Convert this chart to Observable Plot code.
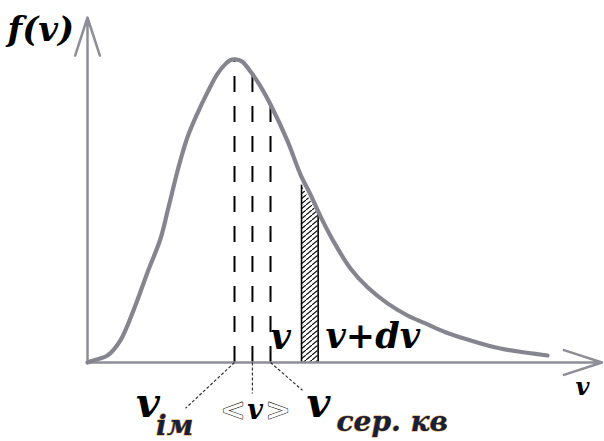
<!DOCTYPE html>
<html>
<head>
<meta charset="utf-8">
<script src="https://cdn.jsdelivr.net/npm/d3@7"></script>
<script src="https://cdn.jsdelivr.net/npm/@observablehq/plot@0.6"></script>
<style>
  html, body { margin: 0; padding: 0; background: #fff; }
</style>
</head>
<body>
<div id="chart"></div>
<script>
// Maxwell speed distribution f(v); speed in units of the most probable speed
const curveV = [0, 0.041, 0.136, 0.224, 0.313, 0.408, 0.497, 0.551, 0.619, 0.680, 0.748, 0.816, 0.884, 0.939, 0.97, 1.0,
  1.03, 1.054, 1.109, 1.177, 1.245, 1.361, 1.449, 1.517, 1.585, 1.673, 1.789, 1.905, 2.041, 2.177, 2.299, 2.435, 2.585, 2.81, 3.129];
const curveF = [0, 0.007, 0.023, 0.073, 0.172, 0.297, 0.409, 0.512, 0.644, 0.743, 0.822, 0.891, 0.952, 0.985, 0.997, 1.0,
  0.998, 0.992, 0.960, 0.911, 0.851, 0.730, 0.620, 0.554, 0.482, 0.400, 0.310, 0.248, 0.195, 0.155, 0.129, 0.100, 0.076, 0.046, 0.023];

// characteristic speeds: most probable, mean, root-mean-square
const speedNames = ["v_ім", "<v>", "v_сер.кв"];
const speedValues = [1.0, 1.122, 1.245];
const speedHeights = [1.0, 0.956, 0.848];

// the strip between v and v+dv
const stripV = [1.456, 1.569];
const stripF = [0.585, 0.49];

// axis extents
const axisMaxV = 3.5;
const axisMaxF = 1.138;

// callout leaders below the axis
const leaderFrom = [1.0, 1.122, 1.245];
const leaderToV = [0.667, 1.122, 1.463];
const leaderToF = [-0.151, -0.102, -0.092];

// labels: text with anchor position (v, f)
const axisLabels = [
  {text: "f(v)", v: -0.544, f: 1.062},
  {text: "v", v: 3.32, f: -0.106}
];
const stripLabels = [
  {text: "v", v: 1.245, f: 0.046},
  {text: "v+dv", v: 1.619, f: 0.049}
];
const mainSymbols = [
  {text: "v", v: 0.330, f: -0.181},
  {text: "v", v: 1.490, f: -0.181}
];
const subscripts = [
  {text: "ім", v: 0.466, f: -0.238},
  {text: "сер. кв", v: 1.694, f: -0.226}
];
const meanBrackets = [
  {text: "<", v: 0.99, f: -0.191},
  {text: ">", v: 1.296, f: -0.191}
];
const meanSymbol = [{text: "v", v: 1.14, f: -0.185}];

const curve = curveV.map((v, i) => ({v, f: curveF[i]}));
const strip = stripV.map((v, i) => ({v, f: stripF[i]}));
const speeds = speedNames.map((name, i) => ({name, v: speedValues[i], f: speedHeights[i]}));
const leaders = leaderFrom.map((v, i) => ({v1: v, f1: 0, v2: leaderToV[i], f2: leaderToF[i]}));
const axes = [
  {v1: 0, f1: 0, v2: 0, f2: axisMaxF},
  {v1: 0, f1: 0, v2: axisMaxV, f2: 0}
];

const serif = "'DejaVu Serif', serif";
const label = {textAnchor: "start", lineAnchor: "bottom", fontFamily: serif, fontStyle: "italic", fontWeight: "bold", fill: "#000"};

const chart = Plot.plot({
  width: 604,
  height: 441,
  marginLeft: 87,
  marginRight: 2.5,
  marginTop: 17,
  marginBottom: 79,
  x: {domain: [0, axisMaxV], axis: null},
  y: {domain: [0, axisMaxF], axis: null},
  style: {background: "#fff", overflow: "visible"},
  marks: [
    // hatched strip f(v)dv
    Plot.areaY(strip, {x: "v", y: "f", fill: "url(#hatch)"}),
    Plot.ruleX(strip, {x: "v", y1: 0, y2: "f", stroke: "#000", strokeWidth: 1.6}),
    // dashed verticals at the characteristic speeds
    Plot.ruleX(speeds, {x: "v", y1: 0, y2: "f", stroke: "#000", strokeWidth: 2, strokeDasharray: "16,14"}),
    // axes with arrowheads
    Plot.arrow(axes, {x1: "v1", y1: "f1", x2: "v2", y2: "f2", stroke: "#8e8e98", strokeWidth: 2.5,
      headAngle: 36, headLength: 24}),
    // distribution curve
    Plot.line(curve, {x: "v", y: "f", stroke: "#858590", strokeWidth: 4.2, curve: "catmull-rom"}),
    // leaders to the speed labels
    Plot.link(leaders, {x1: "v1", y1: "f1", x2: "v2", y2: "f2", stroke: "#333", strokeWidth: 1.2,
      strokeDasharray: "3,2"}),
    // labels
    Plot.text(axisLabels.slice(0, 1), {...label, x: "v", y: "f", text: "text", fontSize: 34}),
    Plot.text(axisLabels.slice(1), {...label, x: "v", y: "f", text: "text", fontSize: 24}),
    Plot.text(stripLabels, {...label, x: "v", y: "f", text: "text", fontSize: 35}),
    Plot.text(mainSymbols, {...label, x: "v", y: "f", text: "text", fontSize: 41}),
    Plot.text(subscripts, {...label, x: "v", y: "f", text: "text", fontSize: 28, fill: "#17203a",
      stroke: "#e0a040", strokeWidth: 1}),
    Plot.text(meanBrackets, {...label, x: "v", y: "f", text: "text", textAnchor: "middle", fontStyle: "normal",
      fontSize: 30, fill: "#fff", stroke: "#111", strokeWidth: 1.1}),
    Plot.text(meanSymbol, {...label, x: "v", y: "f", text: "text", textAnchor: "middle", fontSize: 27})
  ]
});

// diagonal hatching used to fill the strip
d3.select(chart).append("defs").html(
  `<pattern id="hatch" patternUnits="userSpaceOnUse" width="6" height="5">
     <rect width="6" height="5" fill="#fff"/>
     <line x1="-1" y1="5.8" x2="7" y2="-0.8" stroke="#000" stroke-width="1.1"/>
   </pattern>`
);

document.getElementById("chart").appendChild(chart);
</script>
</body>
</html>
